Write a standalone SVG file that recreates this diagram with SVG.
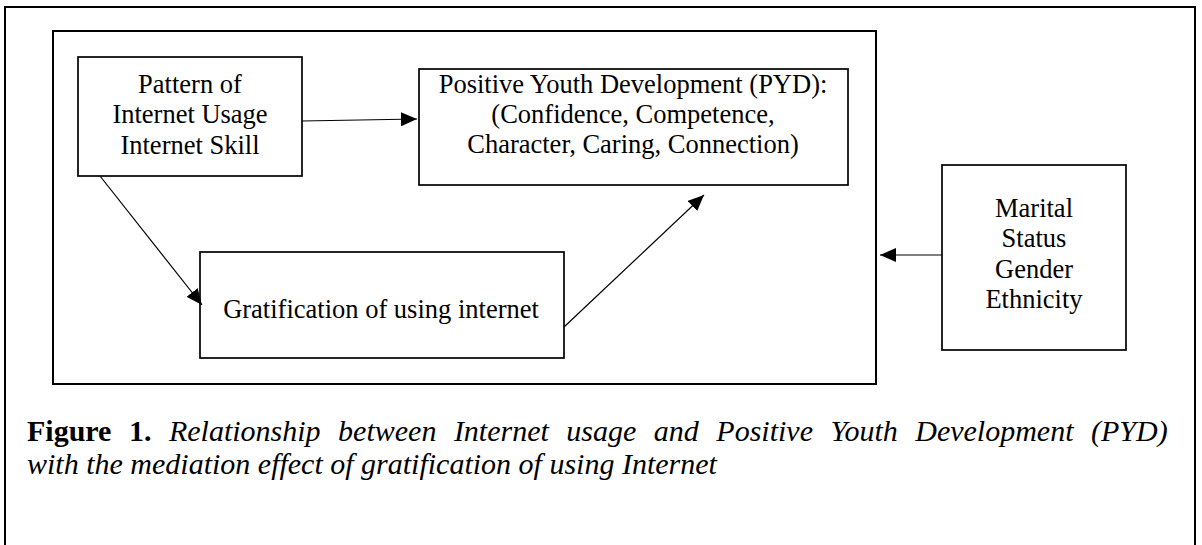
<svg xmlns="http://www.w3.org/2000/svg" width="1202" height="545" viewBox="0 0 1202 545">
  <defs>
    <marker id="arrow" viewBox="0 0 16 14" refX="16" refY="7" markerWidth="16" markerHeight="14" markerUnits="userSpaceOnUse" orient="auto">
      <path d="M0,0 L16,7 L0,14 Z" fill="#000"/>
    </marker>
    <style>
      .frame { fill: none; stroke: #000; stroke-width: 2; }
      .box { fill: #fff; stroke: #000; stroke-width: 1.7; }
      .lbl { font-family: "Liberation Serif", "Times New Roman", serif; font-size: 26.5px; fill: #000; text-anchor: middle; }
      .cap { font-family: "Liberation Serif", "Times New Roman", serif; font-size: 30px; fill: #000; }
      .edge { fill: none; stroke: #000; stroke-width: 1.2; marker-end: url(#arrow); }
    </style>
  </defs>

  <rect width="1202" height="545" fill="#fff"/>

  <!-- page frame and model frame -->
  <rect id="outer-frame" class="frame" x="5" y="7" width="1190" height="560"/>
  <rect id="model-frame" class="frame" x="53" y="31" width="823" height="353"/>

  <g id="usage">
    <rect class="box" x="78" y="57" width="224" height="119"/>
    <text class="lbl" x="190" y="93">Pattern of</text>
    <text class="lbl" x="190" y="123">Internet Usage</text>
    <text class="lbl" x="190" y="154">Internet Skill</text>
  </g>

  <g id="pyd">
    <rect class="box" x="419" y="69" width="429" height="116"/>
    <text class="lbl" x="633" y="93">Positive Youth Development (PYD):</text>
    <text class="lbl" x="633" y="123">(Confidence, Competence,</text>
    <text class="lbl" x="633" y="153">Character, Caring, Connection)</text>
  </g>

  <g id="gratification">
    <rect class="box" x="200" y="252" width="364" height="106"/>
    <text class="lbl" x="381" y="318">Gratification of using internet</text>
  </g>

  <g id="demographics">
    <rect class="box" x="942" y="165" width="184" height="185"/>
    <text class="lbl" x="1034" y="217">Marital</text>
    <text class="lbl" x="1034" y="247">Status</text>
    <text class="lbl" x="1034" y="278">Gender</text>
    <text class="lbl" x="1034" y="308">Ethnicity</text>
  </g>

  <g id="connectors">
    <line class="edge" x1="302" y1="121" x2="417" y2="119"/>
    <line class="edge" x1="100" y1="176" x2="202" y2="305"/>
    <line class="edge" x1="564" y1="327" x2="704" y2="195"/>
    <line class="edge" x1="942" y1="255" x2="880" y2="255"/>
  </g>

  <g id="caption">
    <text class="cap" x="27" y="441" word-spacing="10"><tspan font-weight="bold">Figure 1.</tspan><tspan font-style="italic"> Relationship between Internet usage and Positive Youth Development (PYD)</tspan></text>
    <text class="cap" x="27" y="474" font-style="italic">with the mediation effect of gratification of using Internet</text>
  </g>
</svg>
